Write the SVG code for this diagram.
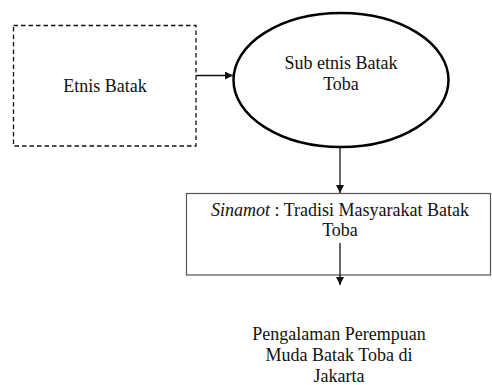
<svg xmlns="http://www.w3.org/2000/svg" width="492" height="385" viewBox="0 0 492 385">
<style>
text{font-family:"Liberation Serif","Times New Roman",serif;font-size:18px;fill:#111;text-anchor:middle}
.conn{stroke:#111;stroke-width:1.3;fill:none;marker-end:url(#ah)}
</style>
<defs>
<marker id="ah" viewBox="0 0 10 10" refX="10" refY="5" markerWidth="8" markerHeight="8" markerUnits="userSpaceOnUse" orient="auto">
<path d="M0,0 L10,5 L0,10 z" fill="#111"/>
</marker>
</defs>
<rect width="492" height="385" fill="#fff"/>
<g id="etnis">
<rect x="13.5" y="25.5" width="182.5" height="120.5" fill="none" stroke="#111" stroke-width="1.3" stroke-dasharray="4.5,3"/>
<text x="105" y="92">Etnis Batak</text>
</g>
<g id="subetnis">
<ellipse cx="341" cy="80" rx="107.5" ry="67" fill="none" stroke="#000" stroke-width="2.5"/>
<text x="341" y="69">Sub etnis Batak</text>
<text x="341" y="90">Toba</text>
</g>
<g id="sinamot">
<rect x="186.5" y="193.5" width="304" height="81.5" fill="none" stroke="#555" stroke-width="1.2"/>
<text x="340" y="215.5"><tspan font-style="italic">Sinamot</tspan> : Tradisi Masyarakat Batak</text>
<text x="340" y="236">Toba</text>
</g>
<g id="pengalaman">
<text x="339" y="340">Pengalaman Perempuan</text>
<text x="339" y="361">Muda Batak Toba di</text>
<text x="339" y="382">Jakarta</text>
</g>
<g id="connectors">
<line class="conn" x1="196" y1="75.5" x2="233" y2="75.5"/>
<line class="conn" x1="340" y1="147" x2="340" y2="193"/>
<line class="conn" x1="340" y1="243" x2="340" y2="285"/>
</g>
</svg>
